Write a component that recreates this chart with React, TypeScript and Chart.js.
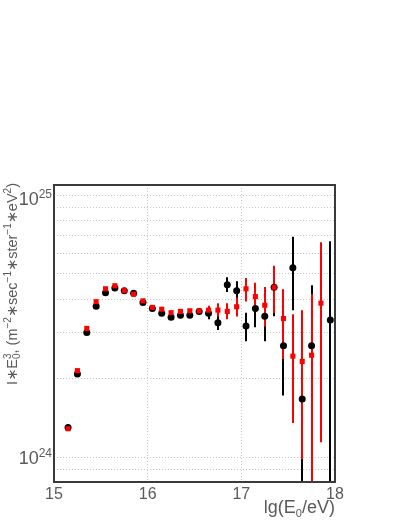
import React, { useEffect, useRef } from 'react';
import { Chart, registerables } from 'chart.js';

Chart.register(...registerables);

// values are in units of 1e24
const UNIT = 1e24;

const blackX = [15.15, 15.25, 15.35, 15.45, 15.55, 15.65, 15.75, 15.85, 15.95, 16.05, 16.15, 16.25, 16.35, 16.45, 16.55, 16.65, 16.75, 16.85, 16.95, 17.05, 17.15, 17.25, 17.35, 17.45, 17.55, 17.65, 17.75, 17.95];
const blackY = [1.30, 2.08, 2.99, 3.77, 4.24, 4.42, 4.32, 4.22, 3.89, 3.69, 3.54, 3.42, 3.48, 3.48, 3.60, 3.54, 3.26, 4.55, 4.32, 3.17, 3.69, 3.45, 4.45, 2.66, 5.28, 1.67, 2.66, 3.34];
const blackLow = [1.29, 2.06, 2.97, 3.75, 4.22, 4.40, 4.30, 4.20, 3.87, 3.67, 3.52, 3.40, 3.45, 3.44, 3.55, 3.36, 3.06, 4.27, 3.95, 2.77, 3.13, 2.77, 3.45, 1.72, 3.64, 0.5, 0.5, 0.5];
const blackHigh = [1.31, 2.10, 3.01, 3.79, 4.26, 4.44, 4.34, 4.24, 3.91, 3.71, 3.56, 3.44, 3.51, 3.52, 3.65, 3.67, 3.48, 4.86, 4.69, 3.56, 4.19, 3.91, 5.20, 3.60, 6.93, 2.40, 4.53, 6.66];

const redX = [15.15, 15.25, 15.35, 15.45, 15.55, 15.65, 15.75, 15.85, 15.95, 16.05, 16.15, 16.25, 16.35, 16.45, 16.55, 16.65, 16.75, 16.85, 16.95, 17.05, 17.15, 17.25, 17.35, 17.45, 17.55, 17.65, 17.75, 17.85];
const redY = [1.285, 2.14, 3.10, 3.92, 4.39, 4.51, 4.32, 4.19, 3.95, 3.73, 3.67, 3.56, 3.60, 3.62, 3.62, 3.64, 3.64, 3.60, 3.75, 4.39, 4.10, 3.80, 4.45, 3.38, 2.43, 2.32, 2.45, 3.87];
const redLow = [1.28, 2.13, 3.09, 3.91, 4.38, 4.50, 4.31, 4.18, 3.94, 3.72, 3.66, 3.55, 3.58, 3.57, 3.57, 3.50, 3.44, 3.36, 3.44, 3.93, 3.64, 3.15, 3.54, 2.37, 1.35, 0.98, 0.5, 1.14];
const redHigh = [1.29, 2.15, 3.11, 3.93, 4.40, 4.52, 4.33, 4.20, 3.96, 3.74, 3.68, 3.57, 3.62, 3.67, 3.67, 3.78, 3.87, 3.87, 4.07, 4.83, 4.63, 4.46, 5.38, 4.37, 3.51, 3.64, 4.19, 6.60];

const xTickValues = [15, 16, 17, 18];
const yGridValues = [0.9, 1, 2, 3, 4, 5, 6, 7, 8, 9, 10];
const yLabelValues = [1, 10];
const yLabelExps = ['24', '25'];

const X_MIN = 15;
const X_MAX = 18;
const Y_MIN = 0.805;
const Y_MAX = 10.92;

const FONT = '"Liberation Sans", Arial, "DejaVu Sans", sans-serif';
const TEXT_COLOR = '#5a5a5a';

type Seg = { t: string; sub?: string; sup?: string };

const yTitleSegs: Seg[] = [
  { t: 'I\u2217E', sub: '0', sup: '3' },
  { t: ', (m', sup: '\u22122' },
  { t: '\u2217sec', sup: '\u22121' },
  { t: '\u2217ster', sup: '\u22121' },
  { t: '\u2217eV', sup: '2' },
  { t: ')' },
];
const xTitleSegs: Seg[] = [{ t: 'lg(E', sub: '0' }, { t: '/eV)' }];

function segsWidth(ctx: CanvasRenderingContext2D, segs: Seg[], size: number, small: number) {
  let w = 0;
  for (const s of segs) {
    ctx.font = `${size}px ${FONT}`;
    w += ctx.measureText(s.t).width;
    ctx.font = `${small}px ${FONT}`;
    const a = s.sub ? ctx.measureText(s.sub).width : 0;
    const b = s.sup ? ctx.measureText(s.sup).width : 0;
    w += Math.max(a, b);
  }
  return w;
}

function drawSegs(ctx: CanvasRenderingContext2D, segs: Seg[], x0: number, y0: number, size: number, small: number) {
  let x = x0;
  ctx.textBaseline = 'alphabetic';
  ctx.textAlign = 'left';
  for (const s of segs) {
    ctx.font = `${size}px ${FONT}`;
    ctx.fillText(s.t, x, y0);
    x += ctx.measureText(s.t).width;
    ctx.font = `${small}px ${FONT}`;
    let adv = 0;
    if (s.sub) {
      ctx.fillText(s.sub, x, y0 + size * 0.22);
      adv = Math.max(adv, ctx.measureText(s.sub).width);
    }
    if (s.sup) {
      ctx.fillText(s.sup, x, y0 - size * 0.42);
      adv = Math.max(adv, ctx.measureText(s.sup).width);
    }
    x += adv;
  }
}

export default function App() {
  const ref = useRef<HTMLCanvasElement>(null);

  useEffect(() => {
    const canvas = ref.current;
    if (!canvas) return;

    const errPlugin = {
      id: 'errbars',
      beforeDatasetsDraw(chart: any) {
        const { ctx, chartArea: a, scales } = chart;
        const xs = scales.x;
        const ys = scales.y;
        ctx.save();
        ctx.beginPath();
        ctx.rect(a.left, a.top, a.right - a.left, a.bottom - a.top);
        ctx.clip();
        const draw = (xv: number[], lo: number[], hi: number[], color: string) => {
          ctx.strokeStyle = color;
          ctx.lineWidth = 2;
          xv.forEach((v, i) => {
            const px = Math.round(xs.getPixelForValue(v));
            ctx.beginPath();
            ctx.moveTo(px, ys.getPixelForValue(lo[i] * UNIT));
            ctx.lineTo(px, ys.getPixelForValue(hi[i] * UNIT));
            ctx.stroke();
          });
        };
        draw(blackX, blackLow, blackHigh, '#000000');
        draw(redX, redLow, redHigh, '#ff0000');
        ctx.restore();
      },
    };

    const decorPlugin = {
      id: 'decor',
      afterDraw(chart: any) {
        const { ctx, chartArea: a, scales } = chart;
        const ys = scales.y;
        ctx.save();
        // frame
        ctx.strokeStyle = '#3a3a3a';
        ctx.lineWidth = 2;
        ctx.strokeRect(a.left, a.top, a.right - a.left, a.bottom - a.top);

        // y tick labels 10^24, 10^25
        ctx.fillStyle = TEXT_COLOR;
        yLabelValues.forEach((v, i) => {
          const py = ys.getPixelForValue(v * UNIT);
          const base = Math.max(py + 7, a.top + 20);
          ctx.font = `12px ${FONT}`;
          const ew = ctx.measureText(yLabelExps[i]).width;
          ctx.textAlign = 'right';
          ctx.textBaseline = 'alphabetic';
          ctx.fillText(yLabelExps[i], a.left - 2, base - 7);
          ctx.font = `18px ${FONT}`;
          ctx.fillText('10', a.left - 2 - ew, base);
        });

        // y title (rotated, right aligned to top of frame)
        const w = segsWidth(ctx, yTitleSegs, 14.5, 10);
        ctx.save();
        ctx.translate(17, a.top - 2 + w);
        ctx.rotate(-Math.PI / 2);
        drawSegs(ctx, yTitleSegs, 0, 0, 14.5, 10);
        ctx.restore();

        // x title (right aligned to frame right)
        const wx = segsWidth(ctx, xTitleSegs, 18, 11);
        drawSegs(ctx, xTitleSegs, a.right - wx, 513, 18, 11);
        ctx.restore();
      },
    };

    const chart = new Chart(canvas, {
      type: 'scatter',
      data: {
        datasets: [
          {
            label: 'red',
            data: redX.map((x, i) => ({ x, y: redY[i] * UNIT })),
            backgroundColor: '#ff0000',
            borderColor: '#ff0000',
            borderWidth: 0,
            pointStyle: 'rect',
            pointRadius: 3.6,
            showLine: false,
            order: 0,
          },
          {
            label: 'black',
            data: blackX.map((x, i) => ({ x, y: blackY[i] * UNIT })),
            backgroundColor: '#000000',
            borderColor: '#000000',
            borderWidth: 0,
            pointStyle: 'circle',
            pointRadius: 3.5,
            showLine: false,
            order: 1,
          },
        ],
      },
      options: {
        animation: false,
        responsive: false,
        events: [],
        layout: { padding: { left: 0, top: 185, right: 67, bottom: 0 } },
        plugins: { legend: { display: false }, tooltip: { enabled: false } },
        scales: {
          x: {
            type: 'linear',
            min: X_MIN,
            max: X_MAX,
            afterBuildTicks: (s: any) => {
              s.ticks = xTickValues.map((v) => ({ value: v }));
            },
            afterFit: (s: any) => {
              s.height = 38;
            },
            grid: { color: '#c8c8c8', lineWidth: 1, drawTicks: false },
            border: { display: false, dash: [1, 2] },
            ticks: {
              color: TEXT_COLOR,
              font: { family: FONT, size: 16 },
              padding: 3,
              maxRotation: 0,
              autoSkip: false,
            },
          },
          y: {
            type: 'logarithmic',
            min: Y_MIN * UNIT,
            max: Y_MAX * UNIT,
            afterBuildTicks: (s: any) => {
              s.ticks = yGridValues.map((v) => ({ value: v * UNIT }));
            },
            afterFit: (s: any) => {
              s.width = 54;
            },
            grid: { color: '#c8c8c8', lineWidth: 1, drawTicks: false },
            border: { display: false, dash: [1, 2] },
            ticks: { display: false },
          },
        },
      },
      plugins: [errPlugin, decorPlugin],
    } as any);

    return () => chart.destroy();
  }, []);

  return (
    <div style={{ position: 'absolute', left: 0, top: 0, width: 402, height: 520, background: '#fff' }}>
      <canvas ref={ref} width={402} height={520} style={{ display: 'block' }} />
    </div>
  );
}
